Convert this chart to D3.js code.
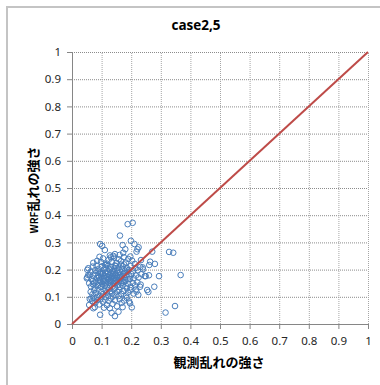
<!DOCTYPE html>
<html>
<head>
<meta charset="utf-8">
<script src="https://cdn.jsdelivr.net/npm/d3@7"></script>
<style>
html,body{margin:0;padding:0;background:#fff;}
svg{display:block;}
</style>
</head>
<body>
<script>
// ---- data ----
const titleText = "case2,5";
const xLabelText = "観測乱れの強さ";
const yLabelPrefix = "WRF";
const yLabelText = "乱れの強さ";
const xTicks = [0,0.1,0.2,0.3,0.4,0.5,0.6,0.7,0.8,0.9,1];
const yTicks = [0,0.1,0.2,0.3,0.4,0.5,0.6,0.7,0.8,0.9,1];
const tickLabels = ["0","0.1","0.2","0.3","0.4","0.5","0.6","0.7","0.8","0.9","1"];
const lineX = [0,1];
const lineY = [0,1];

// observed (x) and WRF (y) turbulence intensity
const obsX = [
0.188,0.205,0.162,0.095,0.102,0.111,0.199,0.211,0.171,0.180,0.173,0.221,0.225,0.218,0.145,0.140,0.131,0.271,0.328,0.342,0.367,0.294,0.278,0.254,0.258,0.224,0.348,0.316,0.264,0.261,0.280,0.233,0.239,0.249,0.260,0.230,0.216,0.196,0.202,0.145,0.134,0.157,0.095,0.072,0.066,0.058,0.055,0.050,0.052,
0.072,0.085,0.098,0.105,0.118,0.124,0.135,0.142,0.150,0.158,0.166,0.175,0.182,0.190,0.203,0.212,0.093,0.128,0.161,0.197,0.112,0.145,0.176,
0.055,0.063,0.070,0.078,0.083,0.090,0.096,0.101,0.107,0.113,0.119,0.122,0.128,0.133,0.138,0.143,0.148,0.153,0.157,0.163,0.168,0.172,0.179,0.185,0.192,0.198,0.206,0.214,0.222,0.231,0.240,0.087,0.116,0.141,0.166,0.188,0.104,0.131,0.176,
0.052,0.060,0.066,0.073,0.079,0.084,0.089,0.094,0.099,0.103,0.108,0.112,0.116,0.120,0.124,0.127,0.131,0.135,0.139,0.142,0.146,0.150,0.154,0.157,0.161,0.165,0.169,0.173,0.178,0.183,0.188,0.194,0.201,0.208,0.216,0.225,0.235,0.246,0.070,0.097,0.118,0.133,0.148,0.163,0.180,0.196,0.106,0.128,0.152,0.170,0.091,0.137,0.144,0.112,0.122,
0.058,0.064,0.071,0.077,0.082,0.088,0.093,0.098,0.102,0.107,0.111,0.115,0.119,0.123,0.128,0.132,0.137,0.141,0.146,0.151,0.156,0.161,0.166,0.171,0.177,0.184,0.190,0.198,0.205,0.213,0.221,0.232,0.126,0.158,0.143,0.095,0.185,0.075,
0.063,0.069,0.075,0.081,0.087,0.093,0.099,0.105,0.110,0.117,0.123,0.129,0.135,0.141,0.147,0.153,0.160,0.167,0.174,0.182,0.189,0.197,0.208,0.218,0.113,0.138,0.158,0.085,
0.060,0.068,0.073,0.079,0.086,0.092,0.097,0.104,0.111,0.118,0.124,0.131,0.137,0.145,0.152,0.161,0.168,0.176,0.185,0.193,0.077,0.108,0.128,0.171
];
const wrfY = [
0.367,0.372,0.325,0.294,0.287,0.272,0.306,0.294,0.290,0.275,0.262,0.275,0.282,0.266,0.257,0.250,0.245,0.266,0.265,0.262,0.180,0.176,0.137,0.125,0.118,0.107,0.066,0.042,0.229,0.217,0.221,0.235,0.208,0.176,0.179,0.137,0.127,0.076,0.061,0.029,0.041,0.045,0.034,0.058,0.094,0.070,0.180,0.168,0.199,
0.225,0.232,0.228,0.241,0.222,0.236,0.229,0.244,0.224,0.238,0.231,0.246,0.226,0.239,0.233,0.221,0.247,0.252,0.254,0.248,0.218,0.215,0.219,
0.205,0.192,0.211,0.198,0.215,0.203,0.190,0.212,0.199,0.207,0.193,0.214,0.201,0.209,0.195,0.204,0.213,0.197,0.208,0.191,0.203,0.212,0.196,0.206,0.199,0.213,0.194,0.205,0.198,0.210,0.201,0.194,0.217,0.190,0.218,0.192,0.186,0.188,0.186,
0.172,0.181,0.165,0.177,0.186,0.169,0.178,0.163,0.174,0.183,0.168,0.177,0.161,0.185,0.171,0.180,0.164,0.175,0.184,0.168,0.178,0.162,0.187,0.172,0.181,0.166,0.176,0.184,0.170,0.179,0.164,0.175,0.183,0.168,0.178,0.171,0.183,0.176,0.158,0.186,0.173,0.172,0.182,0.174,0.161,0.166,0.159,0.158,0.170,0.158,0.171,0.179,0.160,0.188,0.165,
0.150,0.138,0.146,0.133,0.155,0.142,0.151,0.136,0.147,0.155,0.140,0.149,0.134,0.152,0.143,0.156,0.138,0.148,0.133,0.154,0.144,0.136,0.150,0.141,0.155,0.139,0.148,0.135,0.151,0.142,0.153,0.145,0.131,0.158,0.157,0.158,0.131,0.153,
0.118,0.109,0.124,0.113,0.127,0.104,0.119,0.110,0.126,0.115,0.104,0.121,0.112,0.127,0.108,0.119,0.126,0.111,0.121,0.105,0.116,0.124,0.112,0.119,0.101,0.101,0.103,0.100,
0.092,0.084,0.096,0.078,0.088,0.072,0.093,0.082,0.090,0.069,0.085,0.094,0.074,0.087,0.065,0.091,0.078,0.086,0.096,0.083,0.062,0.060,0.058,0.062
];

// ---- drawing ----
const W = 380, H = 385;
const svg = d3.select("body").append("svg").attr("width", W).attr("height", H);

svg.append("rect").attr("x",0).attr("y",0).attr("width",W).attr("height",H).attr("fill","#fff");
// chart frame
svg.append("rect").attr("x",7).attr("y",7).attr("width",W+20).attr("height",H+20)
  .attr("fill","none").attr("stroke","#c4c4c4").attr("stroke-width",2);

const x = d3.scaleLinear().domain([0,1]).range([72,368]);
const y = d3.scaleLinear().domain([0,1]).range([324,52]);

const tickFont = "'Noto Sans', 'DejaVu Sans', sans-serif";

// gridlines
const grid = svg.append("g");
grid.selectAll("line.h").data(yTicks.filter(d=>d>0)).enter().append("line")
  .attr("x1", x(0)).attr("x2", x(1)).attr("y1", d=>y(d)+0.5).attr("y2", d=>y(d)+0.5)
  .attr("stroke","#8c8c8c").attr("stroke-width",1).attr("stroke-dasharray","1,1");
grid.selectAll("line.v").data(xTicks.filter(d=>d>0)).enter().append("line")
  .attr("x1", d=>x(d)+0.5).attr("x2", d=>x(d)+0.5).attr("y1", y(0)).attr("y2", y(1))
  .attr("stroke","#a6a6a6").attr("stroke-width",1).attr("stroke-dasharray","1,1");

// axes
const xAxis = d3.axisBottom(x).tickValues(xTicks).tickSizeInner(5).tickSizeOuter(0)
  .tickPadding(8).tickFormat((d,i)=>tickLabels[i]);
const yAxis = d3.axisLeft(y).tickValues(yTicks).tickSizeInner(5).tickSizeOuter(0)
  .tickPadding(6).tickFormat((d,i)=>tickLabels[i]);

const gx = svg.append("g").attr("transform", `translate(0,${y(0)})`).call(xAxis);
const gy = svg.append("g").attr("transform", `translate(${x(0)},0)`).call(yAxis);
[gx, gy].forEach(g => {
  g.select(".domain").attr("stroke","#868686");
  g.selectAll(".tick line").attr("stroke","#868686");
  g.selectAll(".tick text").attr("fill","#262626").style("font-family", tickFont).style("font-size","11.5px");
});

// scatter points
const pts = obsX.map((v,i)=>({x:v, y:wrfY[i]}));
svg.append("g").selectAll("circle").data(pts).enter().append("circle")
  .attr("cx", d=>x(d.x)).attr("cy", d=>y(d.y)).attr("r", 2.8)
  .attr("fill","none").attr("stroke","#4a7ebb").attr("stroke-width",1);

// 1:1 line
const lineData = lineX.map((v,i)=>[v, lineY[i]]);
svg.append("path").datum(lineData)
  .attr("d", d3.line().x(d=>x(d[0])).y(d=>y(d[1])))
  .attr("stroke","#be4b48").attr("stroke-width",2).attr("fill","none");

// title
svg.append("text").attr("x",196).attr("y",30).attr("text-anchor","middle")
  .style("font-family", "'Open Sans', 'Noto Sans', sans-serif").style("font-size","13.5px").style("font-weight","bold")
  .attr("fill","#000").text(titleText);

// x label
svg.append("text").attr("x",219).attr("y",367).attr("text-anchor","middle")
  .style("font-family","'Noto Sans CJK JP', sans-serif").style("font-size","13px").style("font-weight","bold")
  .attr("fill","#000").text(xLabelText);

// y label
const yl = svg.append("text").attr("transform","translate(38,190) rotate(-90)").attr("text-anchor","middle")
  .style("font-family","'Noto Sans CJK JP', sans-serif").style("font-weight","bold").attr("fill","#000");
yl.append("tspan").style("font-size","10px").text(yLabelPrefix);
yl.append("tspan").style("font-size","13px").text(yLabelText);
</script>
</body>
</html>
